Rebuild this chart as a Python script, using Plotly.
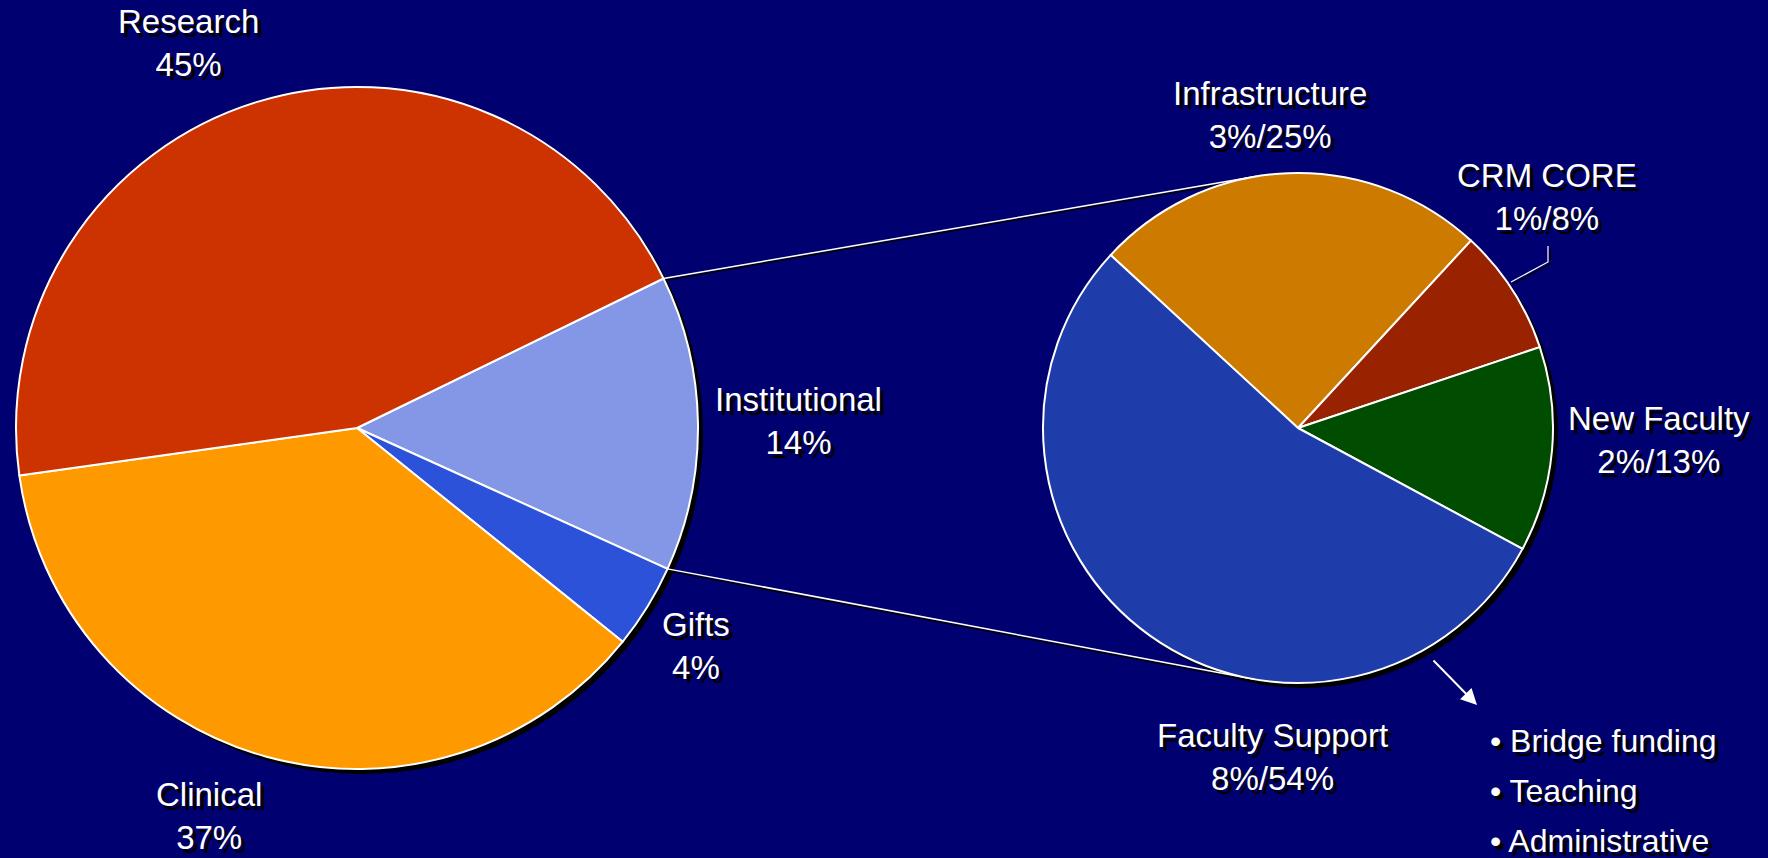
import math
import plotly.graph_objects as go

W, H = 1768, 858

# funding sources (left pie), clockwise from the Institutional slice
sources = ['Institutional', 'Gifts', 'Clinical', 'Research']
source_pct = [14, 4, 37, 45]
source_colors = ['#8497E6', '#2B52D9', '#FF9900', '#CC3300']

# breakdown of the institutional share (right pie), clockwise from Infrastructure
uses = ['Infrastructure', 'CRM CORE', 'New Faculty', 'Faculty Support']
use_pct_total = [3, 1, 2, 8]
use_pct_inst = [25, 8, 13, 54]
use_colors = ['#CC7A00', '#992200', '#004C00', '#1F3DAA']

support_items = ['Bridge funding', 'Teaching', 'Administrative']

BG = '#000070'
FONT = 'Arial, Liberation Sans, sans-serif'
SHADOW = '4px 4px 0px #000000'

# pie geometry in pixels (centre x, centre y, radius)
left_pie = (357, 428, 341)
right_pie = (1298, 428, 255)
rot_left = 64
rot_right = -47.3


def domain(cx, cy, r):
    return dict(x=[(cx - r) / W, (cx + r) / W], y=[1 - (cy + r) / H, 1 - (cy - r) / H])


def px(x, y):
    return x / W, 1 - y / H


def on_circle(pie, angle):
    cx, cy, r = pie
    a = math.radians(angle)
    return cx + r * math.sin(a), cy - r * math.cos(a)


fig = go.Figure()
fig.add_trace(go.Pie(labels=sources, values=source_pct, sort=False, direction='clockwise',
                     rotation=rot_left, domain=domain(*left_pie), textinfo='none',
                     marker=dict(colors=source_colors, line=dict(color='white', width=2)),
                     showlegend=False))
fig.add_trace(go.Pie(labels=uses, values=use_pct_inst, sort=False, direction='clockwise',
                     rotation=rot_right, domain=domain(*right_pie), textinfo='none',
                     marker=dict(colors=use_colors, line=dict(color='white', width=2)),
                     showlegend=False))

shapes = []
# drop shadows behind the pies
for cx, cy, r in (left_pie, right_pie):
    x0, y1 = px(cx - r + 5, cy - r + 5)
    x1, y0 = px(cx + r + 5, cy + r + 5)
    shapes.append(dict(type='circle', xref='paper', yref='paper', x0=x0, x1=x1, y0=y0, y1=y1,
                       fillcolor='black', line=dict(width=0), layer='below'))

# connector lines from the Institutional slice to the breakdown pie
inst_start = rot_left
inst_end = rot_left + 360 * source_pct[0] / sum(source_pct)
links = [(on_circle(left_pie, inst_start), on_circle(right_pie, -9.3)),
         (on_circle(left_pie, inst_end), on_circle(right_pie, 189.6))]
for (ax_, ay_), (bx, by) in links:
    for off, col in ((2, 'black'), (0, 'white')):
        x0, y0 = px(ax_, ay_ + off)
        x1, y1 = px(bx, by + off)
        shapes.append(dict(type='line', xref='paper', yref='paper', x0=x0, y0=y0, x1=x1, y1=y1,
                           line=dict(color=col, width=1.5), layer='below'))

# leader line for CRM CORE
for off, col in ((2, 'black'), (0, 'white')):
    pts = [px(1548 + off, 246 + off), px(1548 + off, 262 + off), px(1511 + off, 282 + off)]
    path = 'M {} {} L {} {} L {} {}'.format(*[v for p in pts for v in p])
    shapes.append(dict(type='path', xref='paper', yref='paper', path=path,
                       line=dict(color=col, width=1.2)))

annotations = []
left_label_pos = [(798, 421), (696, 646), (209, 816), (188, 43)]
for name, pct, (x, y) in zip(sources, source_pct, left_label_pos):
    xx, yy = px(x, y)
    annotations.append(dict(text=f'{name}<br>{pct}%', x=xx, y=yy, xref='paper', yref='paper',
                            xanchor='center', yanchor='middle', showarrow=False))

right_label_pos = [(1270, 115), (1547, 197), (1659, 440), (1272, 757)]
for name, t, i, (x, y) in zip(uses, use_pct_total, use_pct_inst, right_label_pos):
    xx, yy = px(x, y)
    annotations.append(dict(text=f'{name}<br>{t}%/{i}%', x=xx, y=yy, xref='paper', yref='paper',
                            xanchor='center', yanchor='middle', showarrow=False))

for k, item in enumerate(support_items):
    xx, yy = px(1488, 741 + 50 * k)
    annotations.append(dict(text=f'• {item}', x=xx, y=yy, xref='paper', yref='paper',
                            xanchor='left', yanchor='middle', showarrow=False,
                            font=dict(size=32)))

# arrow pointing from Faculty Support to the bullet list
hx, hy = px(1477, 705)
annotations.append(dict(text='', x=hx, y=hy, xref='paper', yref='paper', ax=-45, ay=-46,
                        showarrow=True, arrowhead=2, arrowsize=1.6, arrowwidth=2,
                        arrowcolor='white'))

fig.update_layout(width=W, height=H, margin=dict(l=0, r=0, t=0, b=0),
                  paper_bgcolor=BG, plot_bgcolor=BG,
                  font=dict(family=FONT, size=33, color='white', shadow=SHADOW),
                  shapes=shapes, annotations=annotations)
fig.write_html('out.html', config={'displayModeBar': False},
               post_script="document.body.style.margin='0';"
                           "document.body.style.overflow='hidden';"
                           f"document.body.style.background='{BG}';")
